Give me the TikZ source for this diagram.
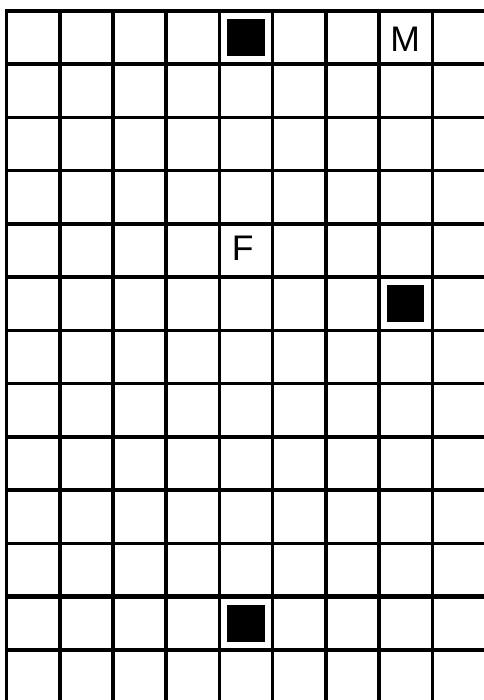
\documentclass[tikz,border=0pt]{standalone}
\usepackage{fontspec}
\setmainfont{Liberation Sans}
\usetikzlibrary{positioning}

\begin{document}
\begin{tikzpicture}[lbl/.style={font=\fontsize{19}{19}\selectfont,inner sep=0pt}]
  \useasboundingbox (-0.122,0.057) rectangle (8.97,13.207);
  \draw[line width=1.9pt,line cap=rect] (0,0) grid (9,13);
  \draw[line width=2.4pt] (6,0) -- (6,13);
  \draw[line width=3pt] (0,2) -- (9,2);
  \def\blk(#1,#2){
    \fill[black] (#1+0.15,#2+0.15) rectangle (#1+0.85,#2+0.85);
  }
  \foreach \x/\y in {4/12, 7/7, 4/1} {
    \blk(\x,\y)
  }
  \node[lbl] (m) at (7.49,12.46) {M};
  \node[lbl] (f) at (4.44,8.54) {F};
\end{tikzpicture}
\end{document}
